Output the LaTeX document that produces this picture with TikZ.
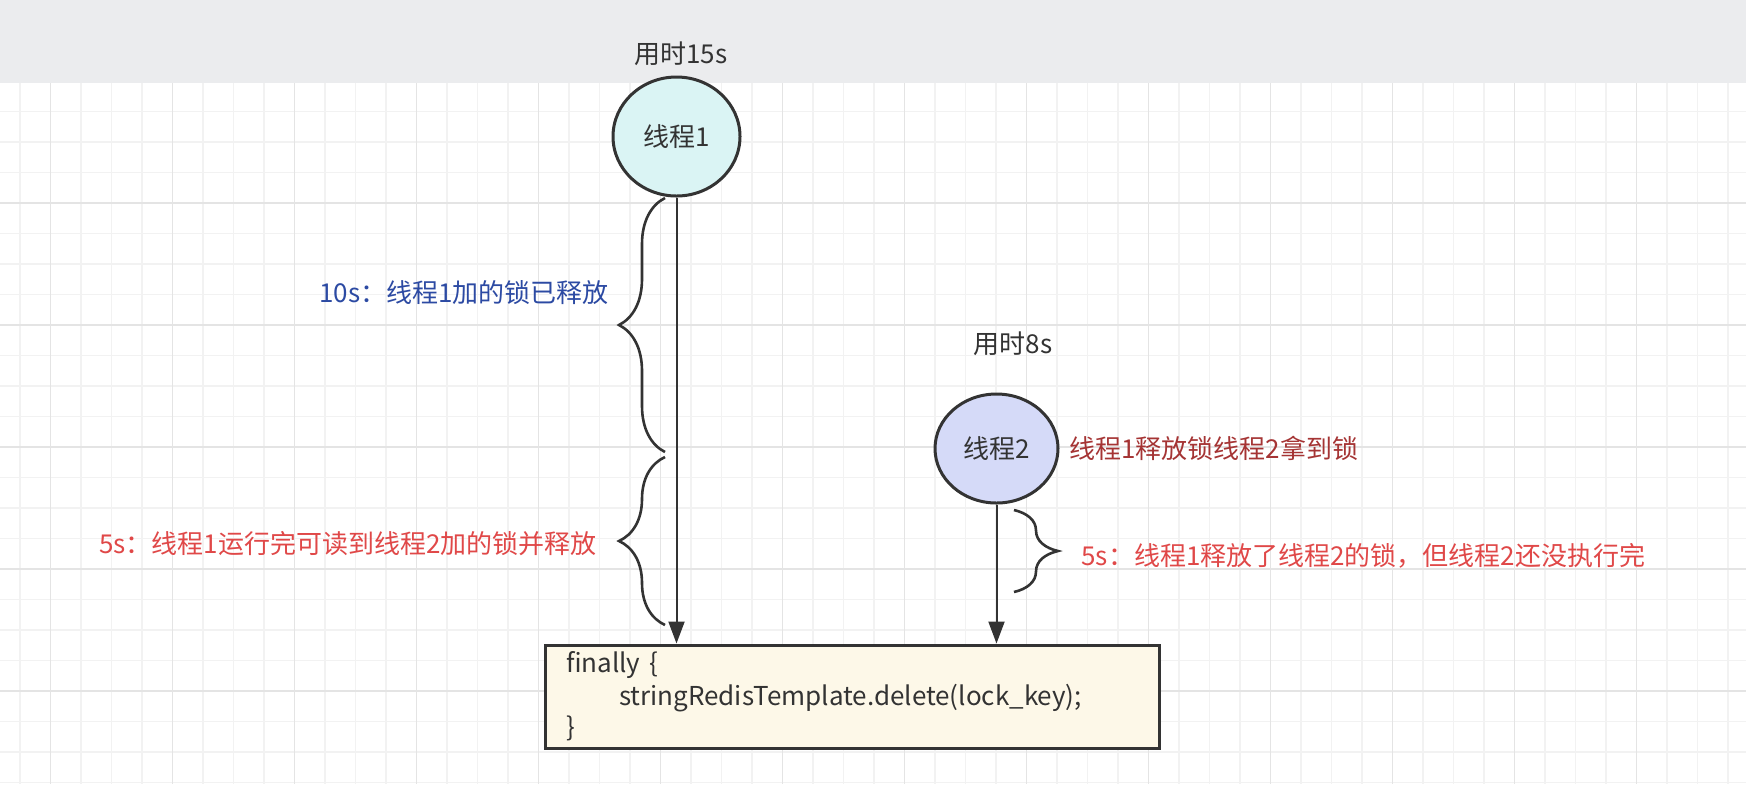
\documentclass[tikz,border=0pt]{standalone}
\usepackage{fontspec}
\setmainfont{Noto Sans CJK SC}
\usetikzlibrary{shapes.geometric,arrows.meta,decorations.pathreplacing}
\definecolor{ink}{HTML}{333333}
\definecolor{bandgray}{HTML}{EBECEE}
\definecolor{gridminor}{HTML}{F2F2F2}
\definecolor{gridmajor}{HTML}{E4E4E4}
\definecolor{cyanfill}{HTML}{DAF4F4}
\definecolor{lavfill}{HTML}{D5DAF8}
\definecolor{creamfill}{HTML}{FDF8E8}
\definecolor{bluetxt}{HTML}{2C4AA3}
\definecolor{darkred}{HTML}{A53434}
\definecolor{redtxt}{HTML}{E04848}
\tikzset{
  thread/.style={ellipse, draw=ink, line width=1.5pt, text=ink, inner sep=0pt},
  codebox/.style={rectangle, draw=ink, line width=1.5pt, fill=creamfill, text=ink,
    minimum width=307pt, minimum height=50.5pt, inner xsep=10.5pt,
    text width=286pt, align=left},
  lbl/.style={inner sep=0pt, text=ink},
  arr/.style={draw=ink, line width=1pt, -{Triangle[length=11pt,width=8pt]}},
  curly/.style={draw=ink, line width=1.3pt, decorate, decoration={brace, amplitude=#1}}
}
\begin{document}
\begin{tikzpicture}[x=0.5pt,y=0.5pt,yscale=-1,font=\fontsize{13}{15.6}\selectfont]
\useasboundingbox (0,0) rectangle (1746,784);
% background grid
\fill[white] (0,83) rectangle (1746,784);
\foreach \i in {-1,...,56} {\draw[gridminor, line width=0.6pt] ({50.5+30.5*\i},83) -- ++(0,701);}
\foreach \k in {1,...,23} {\draw[gridminor, line width=0.6pt] (0,{81+30.5*\k}) -- ++(1746,0);}
\foreach \i in {0,...,13} {\draw[gridmajor, line width=0.8pt] ({50.5+122*\i},83) -- ++(0,701);}
\foreach \k in {0,...,4} {\draw[gridmajor, line width=0.8pt] (0,{203+122*\k}) -- ++(1746,0);}
\fill[bandgray] (0,0) rectangle (1746,83);

% threads
\node[thread, fill=cyanfill, minimum width=63.5pt, minimum height=59.5pt] (t1) at (676.5,136.5) {线程1};
\node[thread, fill=lavfill, minimum width=61.5pt, minimum height=54.5pt] (t2) at (996.5,448.5) {线程2};
\node[lbl] (time1) at (681,54) {用时15s};
\node[lbl] (time2) at (1013,344) {用时8s};

% finally block
\node[codebox] (code) at (852,696.5) {\baselineskip=16.5pt finally \{\\\hspace*{26.5pt}stringRedisTemplate.delete(lock\_key);\\\}};

\draw[arr] (t1) -- (t1 |- code.north);
\draw[arr] (t2) -- (t2 |- code.north);

% braces
\draw[curly=23pt] (665,452) -- (665,198);
\draw[curly=23pt] (665,625) -- (665,457);
\draw[curly=22pt] (1014,510) -- (1014,592);

\node[lbl, text=bluetxt, anchor=east] (note1) at (609,293) {10s：线程1加的锁已释放};
\node[lbl, text=redtxt, anchor=east] (note2) at (597,544) {5s：线程1运行完可读到线程2加的锁并释放};
\node[lbl, text=darkred, anchor=west] (note3) at (1069,448) {线程1释放锁线程2拿到锁};
\node[lbl, text=redtxt, anchor=west] (note4) at (1081,556) {5s：线程1释放了线程2的锁，但线程2还没执行完};
\end{tikzpicture}
\end{document}
